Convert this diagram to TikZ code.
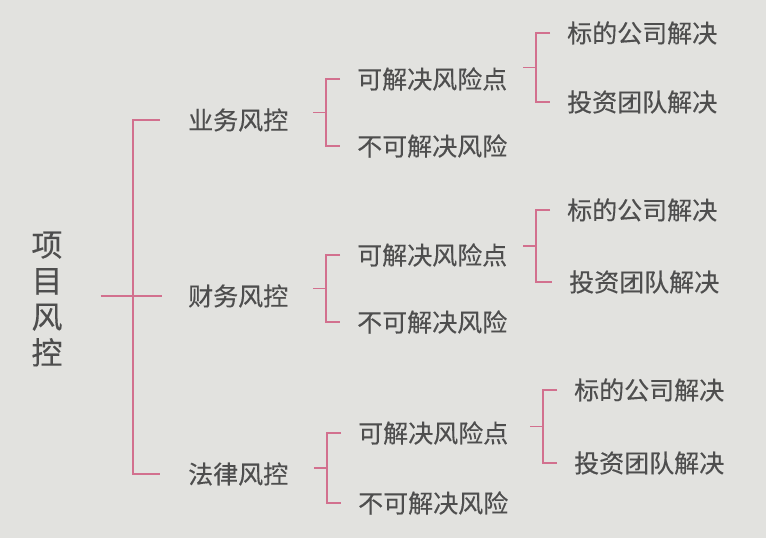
\documentclass[tikz,border=0pt]{standalone}
\usepackage{fontspec}
\setmainfont{Noto Sans CJK SC}
\newfontfamily\printcjk[FakeBold=0.35]{Noto Sans CJK SC}
\usetikzlibrary{positioning}
\definecolor{pagegrey}{RGB}{226,226,223}
\definecolor{inkgrey}{RGB}{78,78,78}
\definecolor{bracketpink}{RGB}{210,112,142}
\tikzset{
  item/.style = {anchor=west, inner sep=0pt, text=inkgrey,
                 font=\printcjk\fontsize{25pt}{25pt}\selectfont},
  title/.style = {inner sep=0pt, text=inkgrey, align=center, text width=31pt,
                  font=\printcjk\fontsize{31pt}{36pt}\selectfont},
  link/.style = {line width=1.4pt, bracketpink},
}

\begin{document}
\begin{tikzpicture}[x=1pt, y=-1pt]
  % Page
  \useasboundingbox (0,0) rectangle (766,538);
  \fill [pagegrey] (0,0) rectangle (766,538);

  % Root and first level
  \node (root) [title] at (47,299) {项\\目\\风\\控};
  \node (ctrl1) [item] at (188,120) {业务风控};
  \node (ctrl2) [item] at (188,296) {财务风控};
  \node (ctrl3) [item] at (188,474) {法律风控};

  % Second level
  \node (fix1) [item] at (357,79) {可解决风险点};
  \node (nofix1) [item] at (357,146) {不可解决风险};
  \node (fix2) [item] at (357,255) {可解决风险点};
  \node (nofix2) [item] at (357,322) {不可解决风险};
  \node (fix3) [item] at (358,433) {可解决风险点};
  \node (nofix3) [item] at (358,503) {不可解决风险};

  % Third level
  \node (target1) [item] at (567,33) {标的公司解决};
  \node (team1) [item] at (567,102) {投资团队解决};
  \node (target2) [item] at (567,210) {标的公司解决};
  \node (team2) [item] at (569,282) {投资团队解决};
  \node (target3) [item] at (574,390) {标的公司解决};
  \node (team3) [item] at (574,463) {投资团队解决};

  % Trunk
  \draw [link] ([xshift=-28pt]ctrl1.west) -- ++(-27pt,0) coordinate (trunk)
    |- ([xshift=-28pt]ctrl3.west);
  \draw [link] (trunk |- ctrl2.west) -- ([xshift=-26pt]ctrl2.west);
  \path ([xshift=38pt]root.east) coordinate (rootend);
  \draw [link] (rootend |- ctrl2.west) -- (trunk |- ctrl2.west);

  % Brackets, the short tick sits at the middle of each spine
  \foreach \p/\a/\b in {ctrl1/fix1/nofix1, ctrl2/fix2/nofix2, ctrl3/fix3/nofix3,
                        fix1/target1/team1, fix2/target2/team2, fix3/target3/team3}{
    \draw [link] ([xshift=-17pt]\a.west) -- ++(-14pt,0) coordinate (spine)
      -- (spine |- \b.west) coordinate [midway] (tick) -- ([xshift=-17pt]\b.west);
    \draw [link] (tick) -- ++(-13pt,0);
  }
\end{tikzpicture}
\end{document}
